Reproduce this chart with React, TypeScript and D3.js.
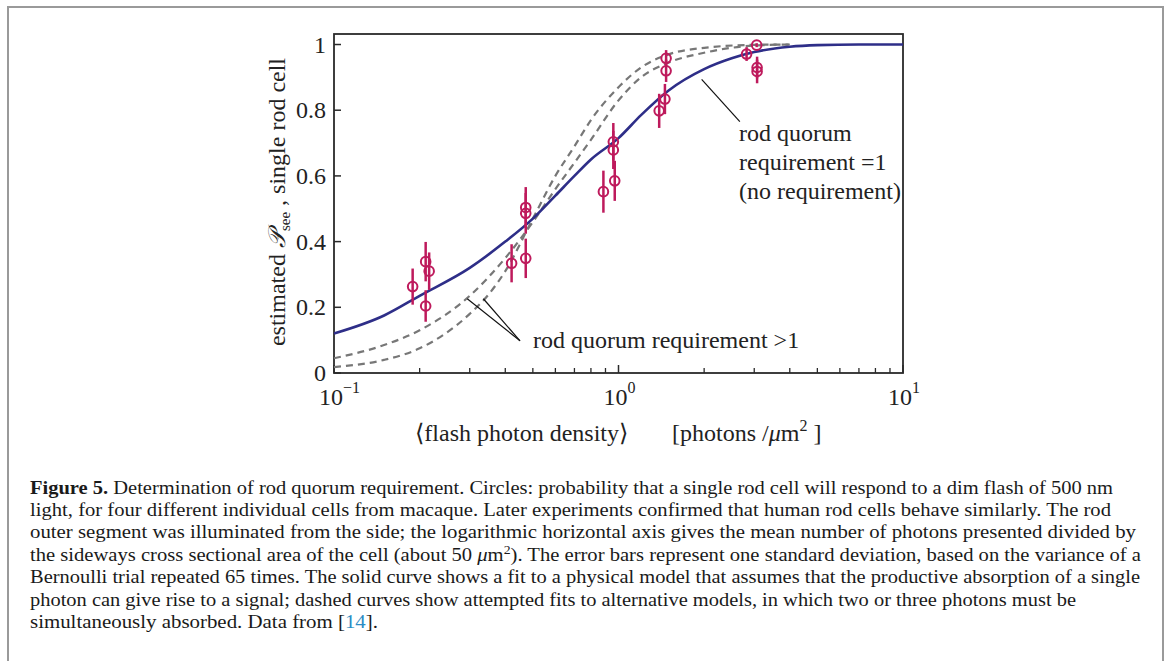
import React from 'react';
import * as d3 from 'd3';

// ---- data ----
const pointX = [0.189, 0.21, 0.216, 0.21, 0.421, 0.472, 0.472, 0.472, 0.885, 0.959, 0.959, 0.97, 1.39, 1.456, 1.47, 1.47, 2.82, 3.06, 3.07, 3.07];
const pointY = [0.263, 0.339, 0.31, 0.204, 0.334, 0.349, 0.504, 0.486, 0.552, 0.704, 0.679, 0.585, 0.798, 0.834, 0.958, 0.92, 0.971, 0.998, 0.918, 0.93];
const pointErr = [0.055, 0.06, 0.057, 0.048, 0.058, 0.06, 0.062, 0.062, 0.064, 0.057, 0.058, 0.061, 0.052, 0.046, 0.025, 0.034, 0.021, 0.006, 0.036, 0.033];

// solid curve: rod quorum requirement = 1
const solidX = [0.1, 0.15, 0.2, 0.3, 0.4, 0.5, 0.6, 0.7, 0.8, 1.0, 1.2, 1.5, 2, 2.5, 3, 4, 5, 7, 10];
const solidY = [0.12, 0.175, 0.235, 0.32, 0.4, 0.47, 0.54, 0.6, 0.65, 0.715, 0.785, 0.86, 0.925, 0.958, 0.977, 0.993, 0.998, 1.0, 1.0];

// dashed curves: rod quorum requirement > 1
const dashAX = [0.1, 0.15, 0.2, 0.3, 0.4, 0.5, 0.6, 0.7, 0.8, 1.0, 1.2, 1.5, 2, 2.5, 3, 4];
const dashAY = [0.045, 0.085, 0.13, 0.235, 0.35, 0.46, 0.56, 0.64, 0.71, 0.83, 0.9, 0.945, 0.975, 0.99, 0.997, 1.0];
const dashBX = [0.1, 0.15, 0.2, 0.3, 0.35, 0.4, 0.5, 0.6, 0.7, 0.8, 1.0, 1.2, 1.5, 2, 3, 4];
const dashBY = [0.018, 0.04, 0.075, 0.18, 0.24, 0.31, 0.47, 0.6, 0.69, 0.77, 0.87, 0.93, 0.97, 0.99, 0.999, 1.0];

const yTicks = [0, 0.2, 0.4, 0.6, 0.8, 1];
const yTickLabels = ['0', '0.2', '0.4', '0.6', '0.8', '1'];
const xMajor = [0.1, 1, 10];
const xMajorExp = ['\u22121', '0', '1'];
const xMinor = [0.2, 0.3, 0.4, 0.5, 0.6, 0.7, 0.8, 0.9, 2, 3, 4, 5, 6, 7, 8, 9];

// leader lines (data coordinates)
const leaderEq1 = [[1.96, 0.894], [2.67, 0.765]];
const leaderGt1a = [[0.294, 0.226], [0.4506, 0.098]];
const leaderGt1b = [[0.335, 0.226], [0.4506, 0.098]];

const captionLines = [
  'Determination of rod quorum requirement. Circles: probability that a single rod cell will respond to a dim flash of 500 nm',
  'light, for four different individual cells from macaque. Later experiments confirmed that human rod cells behave similarly. The rod',
  'outer segment was illuminated from the side; the logarithmic horizontal axis gives the mean number of photons presented divided by',
  '',
  'Bernoulli trial repeated 65 times. The solid curve shows a fit to a physical model that assumes that the productive absorption of a single',
  'photon can give rise to a signal; dashed curves show attempted fits to alternative models, in which two or three photons must be',
  '',
];

const SERIF = '"Liberation Serif", "DejaVu Serif", serif';

export default function App() {
  const W = 1171, H = 661;
  const x = d3.scaleLog().domain([0.1, 10]).range([334, 903]);
  const y = d3.scaleLinear().domain([0, 1.032]).range([373, 34]);

  const line = d3.line<[number, number]>().x(d => x(d[0])).y(d => y(d[1])).curve(d3.curveMonotoneX);
  const solid = line(solidX.map((v, i) => [v, solidY[i]] as [number, number])) || '';
  const dashA = line(dashAX.map((v, i) => [v, dashAY[i]] as [number, number])) || '';
  const dashB = line(dashBX.map((v, i) => [v, dashBY[i]] as [number, number])) || '';

  const ptColor = '#be1a5c';
  const lineColor = '#2e2e88';
  const capY = [494, 516, 538, 561, 583, 606, 628];
  const capW = [1083, 1081, 1106, 1111, 1110, 1046, 348];

  return (
    <svg width={W} height={H} style={{ position: 'absolute', left: 0, top: 0 }} fontFamily={SERIF}>
      <rect x={0} y={0} width={W} height={H} fill="#fff" />
      <rect x={8} y={7} width={1155} height={720} fill="none" stroke="#9a9a9a" strokeWidth={2} />

      {/* plot box */}
      <rect x={334} y={34} width={569} height={339} fill="none" stroke="#2a2a2a" strokeWidth={1.8} />

      {/* y ticks */}
      {yTicks.map((t, i) => (
        <g key={'yt' + i}>
          <line x1={334} x2={341} y1={y(t)} y2={y(t)} stroke="#2a2a2a" strokeWidth={1.5} />
          <text x={326} y={y(t) + 8} textAnchor="end" fontSize={24} fill="#222">{yTickLabels[i]}</text>
        </g>
      ))}
      {/* x ticks */}
      {xMajor.map((t, i) => (
        <g key={'xm' + i}>
          <line x1={x(t)} x2={x(t)} y1={373} y2={365} stroke="#2a2a2a" strokeWidth={1.5} />
          <text x={x(t) - 15} y={405} fontSize={24} fill="#222">10<tspan dy={-12} fontSize={16}>{xMajorExp[i]}</tspan></text>
        </g>
      ))}
      {xMinor.map((t, i) => (
        <line key={'xn' + i} x1={x(t)} x2={x(t)} y1={373} y2={368} stroke="#2a2a2a" strokeWidth={1.3} />
      ))}

      {/* curves */}
      <path d={dashA} fill="none" stroke="#777" strokeWidth={2.2} strokeDasharray="7,5" />
      <path d={dashB} fill="none" stroke="#777" strokeWidth={2.2} strokeDasharray="7,5" />
      <path d={solid} fill="none" stroke={lineColor} strokeWidth={2.6} />

      {/* data points */}
      {pointX.map((v, i) => (
        <g key={'p' + i}>
          <line x1={x(v)} x2={x(v)} y1={y(pointY[i] - pointErr[i])} y2={y(pointY[i] + pointErr[i])} stroke={ptColor} strokeWidth={2.5} />
          <circle cx={x(v)} cy={y(pointY[i])} r={4.8} fill="none" stroke={ptColor} strokeWidth={2} />
        </g>
      ))}

      {/* leader lines */}
      {[leaderEq1, leaderGt1a, leaderGt1b].map((l, i) => (
        <line key={'ld' + i} x1={x(l[0][0])} y1={y(l[0][1])} x2={x(l[1][0])} y2={y(l[1][1])} stroke="#111" strokeWidth={1.2} />
      ))}

      {/* annotations */}
      <text x={739} y={141} fontSize={24} fill="#222">rod quorum</text>
      <text x={739} y={170} fontSize={24} fill="#222">requirement =1</text>
      <text x={739} y={199} fontSize={24} fill="#222">(no requirement)</text>
      <text x={533} y={348} fontSize={24} fill="#222">rod quorum requirement &gt;1</text>

      {/* axis labels */}
      <text x={415} y={441} fontSize={24} fill="#222">{'\u27E8flash photon density\u27E9'}</text>
      <text x={672} y={441} fontSize={24} fill="#222">[photons /<tspan fontStyle="italic">μ</tspan>m<tspan dy={-10} fontSize={16}>2</tspan><tspan dy={10}> ]</tspan></text>
      <text transform="translate(285,202) rotate(-90)" textAnchor="middle" fontSize={24} fill="#222">
        estimated <tspan fontFamily={'"DejaVu Serif", serif'} fontStyle="italic">𝒫</tspan><tspan dy={5} fontSize={15}>see</tspan><tspan dy={-5}> , single rod cell</tspan>
      </text>

      {/* caption */}
      <text x={30} y={capY[0]} fontSize={18} fill="#1a1a1a" textLength={capW[0]} lengthAdjust="spacingAndGlyphs">
        <tspan fontWeight="bold">Figure 5.</tspan> {captionLines[0]}
      </text>
      {[1, 2, 4, 5].map(i => (
        <text key={'c' + i} x={30} y={capY[i]} fontSize={18} fill="#1a1a1a" textLength={capW[i]} lengthAdjust="spacingAndGlyphs">{captionLines[i]}</text>
      ))}
      <text x={30} y={capY[3]} fontSize={18} fill="#1a1a1a" textLength={capW[3]} lengthAdjust="spacingAndGlyphs">
        the sideways cross sectional area of the cell (about 50 <tspan fontStyle="italic">μ</tspan>m<tspan dy={-7} fontSize={12}>2</tspan><tspan dy={7}>). The error bars represent one standard deviation, based on the variance of a</tspan>
      </text>
      <text x={30} y={capY[6]} fontSize={18} fill="#1a1a1a" textLength={capW[6]} lengthAdjust="spacingAndGlyphs">
        simultaneously absorbed. Data from [<tspan fill="#2b8cc4">14</tspan>].
      </text>
    </svg>
  );
}
